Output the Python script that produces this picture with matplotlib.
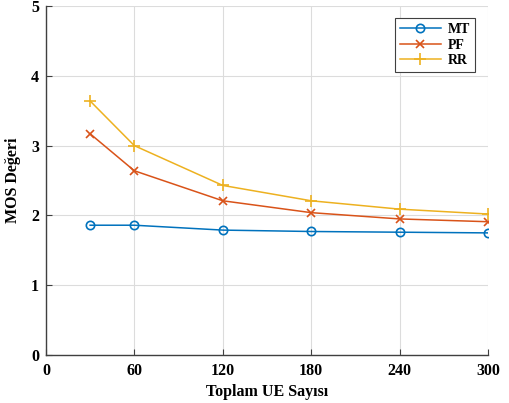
import matplotlib
matplotlib.use("Agg")
import matplotlib.pyplot as plt

x_vals = [30, 60, 120, 180, 240, 300]
mt = [1.86, 1.86, 1.79, 1.77, 1.76, 1.75]
pf = [3.17, 2.64, 2.21, 2.04, 1.95, 1.91]
rr = [3.64, 3.00, 2.43, 2.21, 2.09, 2.02]
x_ticks = [0, 60, 120, 180, 240, 300]
y_ticks = [0, 1, 2, 3, 4, 5]

plt.rcParams['font.family'] = ['Liberation Serif', 'DejaVu Serif']
plt.rcParams['font.weight'] = 'bold'

fig = plt.figure(figsize=(5.10, 4.03), dpi=100)
ax = fig.add_axes([0.090, 0.119, 0.867, 0.866])

ax.plot(x_vals, mt, color='#0072BD', marker='o', markersize=6, markerfacecolor='none',
        markeredgewidth=1.2, linewidth=1.1, label='MT')
ax.plot(x_vals, pf, color='#D95319', marker='x', markersize=6,
        markeredgewidth=1.2, linewidth=1.1, label='PF')
ax.plot(x_vals, rr, color='#EDB120', marker='+', markersize=8,
        markeredgewidth=1.2, linewidth=1.1, label='RR')

ax.set_xlim(0, 300)
ax.set_ylim(0, 5)
ax.set_xticks(x_ticks)
ax.set_yticks(y_ticks)
ax.grid(True, color='#dcdcdc', linewidth=0.8)
ax.set_axisbelow(True)
for s in ['top', 'right']:
    ax.spines[s].set_visible(False)
for s in ['left', 'bottom']:
    ax.spines[s].set_color('#404040')
    ax.spines[s].set_linewidth(1.0)
ax.tick_params(direction='in', length=4, width=0.8, color='#404040',
               labelsize=11.5)
ax.tick_params(axis='x', pad=6)
ax.tick_params(axis='y', pad=5)
for lbl in ax.get_xticklabels() + ax.get_yticklabels():
    lbl.set_fontweight('bold')

ax.set_xlabel('Toplam UE Sayısı', fontsize=11.5, fontweight='bold', labelpad=3)
ax.set_ylabel('MOS Değeri', fontsize=11.5, fontweight='bold', labelpad=7)

leg = ax.legend(loc='upper right', bbox_to_anchor=(0.970, 0.966),
                fancybox=False, framealpha=1, edgecolor='#404040',
                handlelength=2.9, handletextpad=0.5, borderpad=0.35,
                labelspacing=0.2, borderaxespad=0,
                prop={'weight': 'bold', 'size': 10})
leg.get_frame().set_linewidth(0.8)

fig.savefig('out.png', dpi=100)
